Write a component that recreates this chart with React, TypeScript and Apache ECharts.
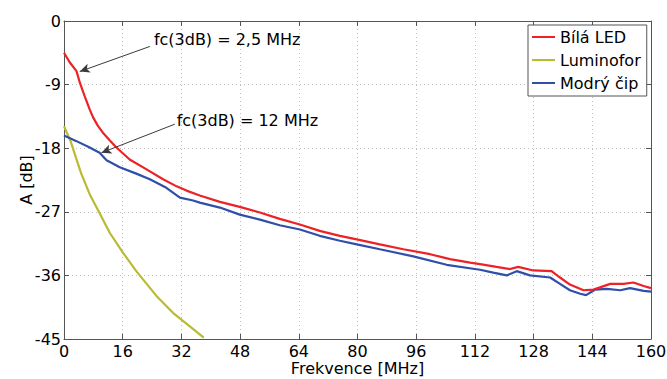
import React, { useEffect, useRef } from "react";
import * as echarts from "echarts";

// Bílá LED (red)
const ledX = [0, 1.5, 3.4, 4.3, 5.6, 7.0, 7.9, 9.2, 10.6, 12.5, 14.3, 17.9, 22.5, 27.0, 30.7, 33.4, 37.0, 42.5, 47.9, 53.4, 58.8, 64.3, 69.7, 75.2, 79.8, 86.1, 92.5, 99.8, 105.2, 110.7, 113.4, 117.9, 121.6, 123.8, 127.9, 132.9, 135.2, 137.9, 141.6, 144.3, 146.1, 148.9, 152.5, 155.2, 158.0, 160];
const ledY = [-4.5, -5.8, -7.1, -8.7, -10.6, -12.5, -13.6, -14.8, -15.8, -16.9, -17.9, -19.6, -21.0, -22.4, -23.4, -24.0, -24.7, -25.6, -26.3, -27.1, -28.0, -28.8, -29.7, -30.4, -30.9, -31.6, -32.3, -33.0, -33.7, -34.2, -34.4, -34.8, -35.1, -34.8, -35.3, -35.4, -36.3, -37.3, -38.1, -38.0, -37.7, -37.2, -37.2, -37.0, -37.5, -37.8];

// Luminofor (yellow)
const lumX = [0, 1.8, 3.3, 4.7, 7.0, 9.5, 12.5, 16.1, 19.7, 25.2, 29.7, 34.3, 38.1];
const lumY = [-14.9, -17.0, -19.4, -21.6, -24.5, -27.0, -30.0, -32.8, -35.4, -38.9, -41.3, -43.2, -44.8];

// Modrý čip (blue)
const chipX = [0, 3.4, 7.0, 9.7, 11.6, 15.2, 19.7, 23.4, 27.9, 31.6, 35.2, 37.0, 42.5, 47.9, 53.4, 58.8, 64.3, 69.7, 75.2, 79.8, 86.1, 95.2, 104.3, 113.4, 117.0, 120.7, 123.4, 127.0, 132.5, 135.2, 137.9, 140.7, 142.3, 144.8, 148.0, 151.6, 154.3, 158.0, 160];
const chipY = [-16.2, -17.0, -17.9, -18.65, -19.7, -20.7, -21.6, -22.4, -23.6, -25.0, -25.4, -25.7, -26.4, -27.4, -28.1, -28.9, -29.5, -30.4, -31.1, -31.6, -32.3, -33.3, -34.5, -35.2, -35.6, -36.0, -35.4, -36.0, -36.3, -37.2, -38.1, -38.6, -38.8, -38.0, -37.9, -38.1, -37.8, -38.2, -38.3];

const seriesNames = ["Bílá LED", "Luminofor", "Modrý čip"];
const seriesColors = ["#ec2227", "#b9bb30", "#2f4fa8"];

// annotations (data coordinates)
const noteTexts = ["fc(3dB) = 2,5 MHz", "fc(3dB) = 12 MHz"];
const notePos = [[24.5, -2.6], [30.7, -14.05]];
const arrowFrom = [[23.4, -3.6], [30.2, -14.6]];
const arrowTo = [[4.3, -7.15], [10.2, -18.65]];

const FONT = "DejaVu Sans";

const zip = (xs: number[], ys: number[]) => xs.map((x, i) => [x, ys[i]]);

export default function App() {
  const ref = useRef<HTMLDivElement>(null);
  useEffect(() => {
    document.body.style.margin = "0";
    const chart = echarts.init(ref.current!, null, { renderer: "svg" });
    const axisCommon = {
      type: "value" as const,
      axisLine: { show: true, onZero: false, lineStyle: { color: "#555", width: 1 } },
      axisTick: { show: true, inside: true, length: 5, lineStyle: { color: "#555" } },
    };
    const option: any = {
      animation: false,
      textStyle: { fontFamily: FONT },
      grid: { left: 64, right: 16, top: 21, bottom: 40, show: false, outerBoundsMode: "none", containLabel: false },
      legend: {
        orient: "vertical",
        left: 528,
        top: 25,
        padding: [2, 6, 3, 4],
        itemGap: 3,
        itemWidth: 23,
        itemHeight: 2,
        icon: "rect",
        borderColor: "#555",
        borderWidth: 1,
        backgroundColor: "#fff",
        textStyle: { fontSize: 16, fontFamily: FONT, color: "#000", lineHeight: 20 },
        data: seriesNames,
      },
      xAxis: [
        {
          ...axisCommon,
          min: 0,
          max: 160,
          interval: 16,
          position: "bottom",
          axisLabel: { fontSize: 16, lineHeight: 16, color: "#000", margin: 4, fontFamily: FONT },
          splitLine: { show: true, lineStyle: { type: [1, 3], color: "#bdbdbd" } },
          name: "Frekvence [MHz]",
          nameLocation: "middle",
          nameGap: 21,
          nameMoveOverlap: false,
          nameTextStyle: { fontSize: 16, color: "#000", fontFamily: FONT, lineHeight: 17 },
        },
        {
          ...axisCommon,
          min: 0,
          max: 160,
          interval: 16,
          position: "top",
          axisLabel: { show: false },
          splitLine: { show: false },
        },
      ],
      yAxis: [
        {
          ...axisCommon,
          min: -45,
          max: 0,
          interval: 9,
          position: "left",
          axisLabel: { fontSize: 16, color: "#000", margin: 3, fontFamily: FONT },
          splitLine: { show: true, lineStyle: { type: [1, 3], color: "#bdbdbd" } },
          name: "A [dB]",
          nameLocation: "middle",
          nameRotate: 90,
          nameGap: 30,
          nameMoveOverlap: false,
          nameTextStyle: { fontSize: 16, color: "#000", fontFamily: FONT },
        },
        {
          ...axisCommon,
          min: -45,
          max: 0,
          interval: 9,
          position: "right",
          axisLabel: { show: false },
          splitLine: { show: false },
        },
      ],
      series: [
        {
          name: seriesNames[0],
          type: "line",
          data: zip(ledX, ledY),
          showSymbol: false,
          color: seriesColors[0],
          lineStyle: { width: 2.2, color: seriesColors[0] },
          z: 3,
          markLine: {
            silent: true,
            symbol: ["none", "arrow"],
            symbolSize: [7, 10],
            label: { show: false },
            lineStyle: { type: "solid", color: "#3a3a3a", width: 1 },
            emphasis: { disabled: true },
            data: arrowFrom.map((f, i) => [{ coord: f }, { coord: arrowTo[i] }]),
          },
        },
        {
          name: seriesNames[1],
          type: "line",
          data: zip(lumX, lumY),
          showSymbol: false,
          color: seriesColors[1],
          lineStyle: { width: 2.2, color: seriesColors[1] },
          z: 2,
        },
        {
          name: seriesNames[2],
          type: "line",
          data: zip(chipX, chipY),
          showSymbol: false,
          color: seriesColors[2],
          lineStyle: { width: 2.2, color: seriesColors[2] },
          z: 2,
        },
      ],
    };
    chart.setOption(option);
    const graphics = noteTexts.map((t, i) => {
      const p = chart.convertToPixel({ gridIndex: 0 }, notePos[i]) as number[];
      return {
        type: "text",
        x: p[0],
        y: p[1],
        silent: true,
        style: {
          text: t,
          fontSize: 16,
          fontFamily: FONT,
          fill: "#000",
          align: "left",
          verticalAlign: "middle",
        },
        z: 10,
      };
    });
    chart.setOption({ graphic: graphics });
    return () => chart.dispose();
  }, []);
  return (
    <div
      ref={ref}
      style={{ position: "fixed", left: 0, top: 0, width: 667, height: 379, background: "#fff" }}
    />
  );
}
